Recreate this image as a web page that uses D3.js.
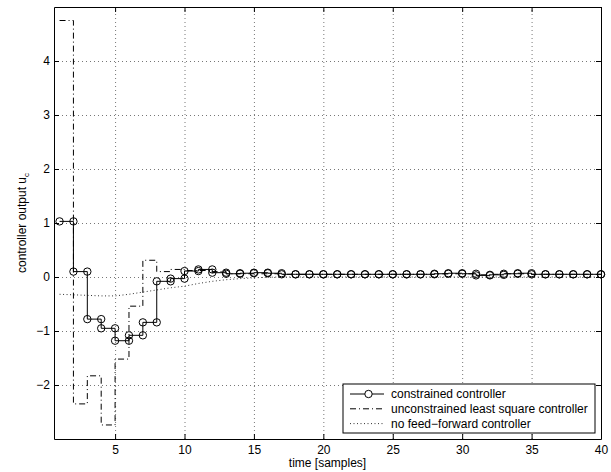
<!DOCTYPE html>
<html>
<head>
<meta charset="utf-8">
<script src="https://cdn.jsdelivr.net/npm/d3@7"></script>
<style>
  body { margin: 0; background: #fff; }
  svg text { font-family: "Liberation Sans", Arial, Helvetica, sans-serif; font-size: 12px; fill: #000; }
</style>
</head>
<body>
<div id="chart"></div>
<script>
// sample index 1..40
const samples = d3.range(1, 41)

// constrained controller (stairs with circle markers)
const constrained = [1.03, 0.10, -0.78, -0.95, -1.18, -1.08, -0.84, -0.08, -0.03, 0.11,
  0.14, 0.08, 0.06, 0.07, 0.08, 0.07, 0.05, 0.05, 0.05, 0.05,
  0.05, 0.05, 0.05, 0.05, 0.05, 0.05, 0.05, 0.06, 0.07, 0.06,
  0.03, 0.04, 0.06, 0.07, 0.05, 0.05, 0.05, 0.05, 0.05, 0.05]

// unconstrained least square controller (stairs, dash-dot)
const unconstrained = [4.75, -2.35, -1.83, -2.74, -1.52, -0.54, 0.31, 0.10, 0.14, 0.12,
  0.12, 0.10, 0.06, 0.06, 0.06, 0.06, 0.05, 0.05, 0.05, 0.05,
  0.05, 0.05, 0.05, 0.05, 0.05, 0.05, 0.05, 0.06, 0.06, 0.06,
  0.04, 0.05, 0.06, 0.06, 0.05, 0.05, 0.05, 0.05, 0.05, 0.05]

// no feed-forward controller (dotted)
const noFeedForward = [-0.32, -0.33, -0.34, -0.35, -0.35, -0.32, -0.28, -0.24, -0.20, -0.17,
  -0.12, -0.08, -0.05, -0.03, -0.015, -0.005, 0, 0, 0, 0,
  0, 0, 0, 0, 0, 0, 0, 0, 0, 0,
  0, 0, 0, 0, 0, 0, 0, 0, 0, 0]

const xTicks = [5, 10, 15, 20, 25, 30, 35, 40]
const yTicks = [-2, -1, 0, 1, 2, 3, 4]
const legendLabels = ['constrained controller', 'unconstrained least square controller', 'no feed\u2212forward controller']

const W = 611, H = 472
const margin = {top: 7, right: 10, bottom: 33, left: 54}
const width = W - margin.left - margin.right,
      height = H - margin.top - margin.bottom

const svg = d3.select('#chart').append('svg')
  .attr('width', W)
  .attr('height', H)

const g = svg.append('g')
  .attr('transform', `translate(${margin.left},${margin.top})`)

const x = d3.scaleLinear().domain([0.6, 40]).range([0, width])
const y = d3.scaleLinear().domain([-3, 5]).range([height, 0])

// grid
g.append('g')
  .attr('transform', `translate(0,${height})`)
  .call(d3.axisBottom(x).tickValues(xTicks).tickSize(-height).tickFormat(''))
  .call(s => s.select('.domain').remove())
  .selectAll('line').attr('stroke', '#777').attr('stroke-dasharray', '1,3')
g.append('g')
  .call(d3.axisLeft(y).tickValues(yTicks).tickSize(-width).tickFormat(''))
  .call(s => s.select('.domain').remove())
  .selectAll('line').attr('stroke', '#777').attr('stroke-dasharray', '1,3')

const toPts = (vals) => samples.map((k, i) => ({k: k, v: vals[i]}))

const stairs = d3.line()
  .x(d => x(d.k))
  .y(d => y(d.v))
  .curve(d3.curveStepAfter)

const smooth = d3.line()
  .x(d => x(d.k))
  .y(d => y(d.v))

g.append('path')
  .datum(toPts(noFeedForward))
  .attr('fill', 'none')
  .attr('stroke', '#333')
  .attr('stroke-width', 1)
  .attr('stroke-dasharray', '1,2.5')
  .attr('d', smooth)

g.append('path')
  .datum(toPts(unconstrained))
  .attr('fill', 'none')
  .attr('stroke', '#000')
  .attr('stroke-width', 1)
  .attr('stroke-dasharray', '6,3,1,3')
  .attr('d', stairs)

g.append('path')
  .datum(toPts(constrained))
  .attr('fill', 'none')
  .attr('stroke', '#000')
  .attr('stroke-width', 1)
  .attr('d', stairs)

// stairs vertices get markers
const vertices = []
constrained.forEach((v, i) => {
  vertices.push({k: samples[i], v: v})
  if (i < constrained.length - 1) vertices.push({k: samples[i + 1], v: v})
})

g.append('g')
  .selectAll('circle')
  .data(vertices)
  .enter().append('circle')
  .attr('cx', d => x(d.k))
  .attr('cy', d => y(d.v))
  .attr('r', 3.7)
  .attr('fill', 'none')
  .attr('stroke', '#000')
  .attr('stroke-width', 1)

// axes, ticks inside on all four sides
const styleAxis = s => {
  s.select('.domain').attr('stroke', '#000')
  s.selectAll('.tick line').attr('stroke', '#000')
  s.selectAll('text').attr('font-size', null).attr('font-family', null)
}

g.append('g')
  .attr('transform', `translate(0,${height})`)
  .call(d3.axisBottom(x).tickValues(xTicks).tickSizeInner(-5).tickSizeOuter(0).tickPadding(6))
  .call(styleAxis)
g.append('g')
  .call(d3.axisTop(x).tickValues(xTicks).tickSizeInner(-5).tickSizeOuter(0).tickFormat(''))
  .call(styleAxis)
g.append('g')
  .call(d3.axisLeft(y).tickValues(yTicks).tickSizeInner(-5).tickSizeOuter(0).tickPadding(4))
  .call(styleAxis)
g.append('g')
  .attr('transform', `translate(${width},0)`)
  .call(d3.axisRight(y).tickValues(yTicks).tickSizeInner(-5).tickSizeOuter(0).tickFormat(''))
  .call(styleAxis)

// axis labels
g.append('text')
  .attr('x', width / 2)
  .attr('y', height + 28)
  .attr('text-anchor', 'middle')
  .text('time [samples]')

const yl = g.append('text')
  .attr('transform', `translate(${26 - margin.left},${height / 2}) rotate(-90)`)
  .attr('text-anchor', 'middle')
yl.append('tspan').text('controller output u')
yl.append('tspan').attr('font-size', '8px').attr('dy', 3).text('c')

// legend
const lg = g.append('g').attr('transform', `translate(${343 - margin.left},${384 - margin.top})`)
lg.append('rect')
  .attr('width', 252)
  .attr('height', 49)
  .attr('fill', '#fff')
  .attr('stroke', '#000')

const legendStyles = [
  {dash: null, marker: true, color: '#000'},
  {dash: '6,3,1,3', marker: false, color: '#000'},
  {dash: '1,2.5', marker: false, color: '#333'}
]

legendLabels.forEach((label, i) => {
  const row = lg.append('g').attr('transform', `translate(0,${10 + i * 14.8})`)
  row.append('line')
    .attr('x1', 7).attr('x2', 41)
    .attr('stroke', legendStyles[i].color)
    .attr('stroke-dasharray', legendStyles[i].dash)
  if (legendStyles[i].marker) {
    row.append('circle').attr('cx', 25.5).attr('r', 3.7)
      .attr('fill', '#fff').attr('stroke', '#000')
  }
  row.append('text')
    .attr('x', 48)
    .attr('dy', '0.35em')
    .text(label)
})
</script>
</body>
</html>
